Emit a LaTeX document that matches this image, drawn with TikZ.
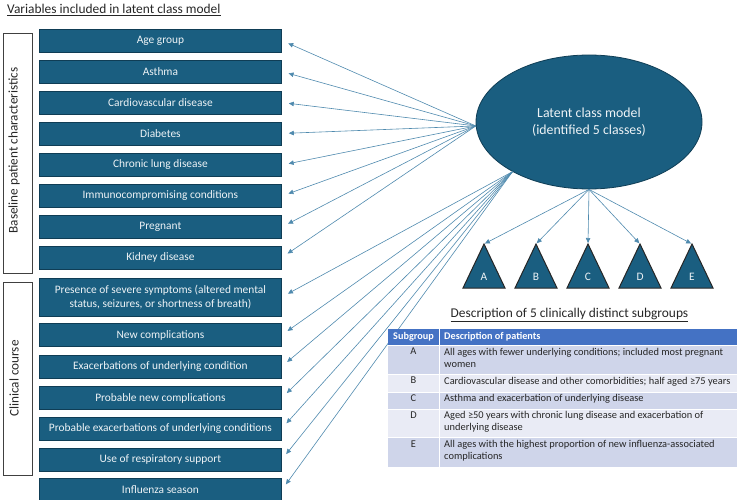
\documentclass[tikz,border=0pt]{standalone}
\usepackage{fontspec}
\setmainfont{Carlito}
\usetikzlibrary{shapes.geometric,arrows.meta}
\definecolor{tealA}{HTML}{1A5E80}
\definecolor{tealB}{HTML}{0F3D55}
\definecolor{arrc}{HTML}{4F8AAE}
\definecolor{hdrc}{HTML}{4472C4}
\definecolor{rowd}{HTML}{CFD5EA}
\definecolor{rowl}{HTML}{E9EBF5}
\definecolor{txtc}{HTML}{262626}
\definecolor{boxtxt}{HTML}{EEF3F6}
\begin{document}
\begin{tikzpicture}[x=1pt,y=-1pt,
  vbox/.style={draw=tealB, line width=0.8pt, fill=tealA, text=boxtxt, minimum width=242pt,
    minimum height=23pt, inner sep=0pt, font=\fontsize{11.4}{14}\selectfont, anchor=west, align=center},
  arr/.style={draw=arrc, line width=0.6pt, -{Triangle[length=5pt,width=4.5pt]}},
  brk/.style={draw=black!75, line width=0.8pt},
  tri/.style={draw=black!85, line width=1pt, fill=tealA},
  trilab/.style={text=boxtxt, font=\fontsize{11.4}{12}\selectfont},
  th/.style={text=white, font=\bfseries\fontsize{10.2}{11}\selectfont, inner sep=0pt},
  tdl/.style={text=txtc, font=\fontsize{10.4}{12}\selectfont, inner sep=0pt, anchor=north},
  tdd/.style={text=txtc, font=\fontsize{10.4}{12}\selectfont, inner sep=0pt, anchor=north west, align=left},
  sidelab/.style={rotate=90, text=txtc, font=\fontsize{13.2}{14}\selectfont}
]
\useasboundingbox (0,0) rectangle (738,500);

% titles
\node[anchor=west, text=txtc, font=\fontsize{13.4}{16}\selectfont, inner sep=0pt] (mt) at (7,10) {\underline{Variables included in latent class model}};
\node[text=txtc, font=\fontsize{13.4}{16}\selectfont, inner sep=0pt] (tt) at (569.5,315) {\underline{Description of 5 clinically distinct subgroups}};

% side brackets
\draw[brk] (3,33.5) rectangle (32.5,273);
\draw[brk] (3,282) rectangle (32.5,475);
\node[sidelab] (s1) at (14,150.5) {Baseline patient characteristics};
\node[sidelab] (s2) at (14,378.5) {Clinical course};

% variable boxes
\node[vbox] (b1) at (39,40.5) {Age group};
\node[vbox] (b2) at (39,71.5) {Asthma};
\node[vbox] (b3) at (39,102.5) {Cardiovascular disease};
\node[vbox] (b4) at (39,133.5) {Diabetes};
\node[vbox] (b5) at (39,165) {Chronic lung disease};
\node[vbox] (b6) at (39,196) {Immunocompromising conditions};
\node[vbox] (b7) at (39,227) {Pregnant};
\node[vbox] (b8) at (39,257.5) {Kidney disease};
\node[vbox, minimum height=38pt] (b9) at (39,297) {Presence of severe symptoms (altered mental\\status, seizures, or shortness of breath)};
\node[vbox] (b10) at (39,335) {New complications};
\node[vbox] (b11) at (39,366.5) {Exacerbations of underlying condition};
\node[vbox] (b12) at (39,398) {Probable new complications};
\node[vbox] (b13) at (39,428.5) {Probable exacerbations of underlying conditions};
\node[vbox] (b14) at (39,459.5) {Use of respiratory support};
\node[vbox] (b15) at (39,490) {Influenza season};

% latent class model
\node[ellipse, draw=tealB, line width=0.8pt, fill=tealA, minimum width=226pt, minimum height=134pt,
  inner sep=0pt, text=boxtxt, align=center, font=\fontsize{13.8}{17}\selectfont] (lcm) at (589,122)
  {Latent class model\\(identified 5 classes)};
\coordinate (o1) at (lcm.182);
\coordinate (o2) at (lcm.213);
\coordinate (o3) at (lcm.south);

\foreach \b in {b1,b2,b3,b4,b5,b6,b7,b8}
  \draw[arr, shorten >=7pt] (o1) -- (\b.east);
\foreach \b in {b9,b10,b11,b12,b13,b14,b15}
  \draw[arr, shorten >=7pt] (o2) -- (\b.east);

% triangles
\coordinate (tA) at (484,244);
\coordinate (tB) at (536,244);
\coordinate (tC) at (588,244);
\coordinate (tD) at (640,244);
\coordinate (tE) at (692,244);
\foreach \t in {tA,tB,tC,tD,tE}
  \draw[tri] (\t) -- ++(21,44) -- ++(-42,0) -- cycle;
\node[trilab] (lA) at (484,277) {A};
\node[trilab] (lB) at (536,277) {B};
\node[trilab] (lC) at (588,277) {C};
\node[trilab] (lD) at (640,277) {D};
\node[trilab] (lE) at (692,277) {E};
\foreach \t in {tA,tB,tC,tD,tE}
  \draw[arr, shorten >=1pt] (o3) -- (\t);

% table
\fill[hdrc] (388,329) rectangle (737,345);
\fill[rowd] (388,345) rectangle (737,374);
\fill[rowl] (388,374) rectangle (737,392);
\fill[rowd] (388,392) rectangle (737,409);
\fill[rowl] (388,409) rectangle (737,437);
\fill[rowd] (388,437) rectangle (737,467);
\draw[white, line width=1pt] (439,329) -- (439,467);
\foreach \yy in {345,374,392,409,437}
  \draw[white, line width=1pt] (388,\yy) -- (737,\yy);

\node[th] (h1) at (413.5,337) {Subgroup};
\node[th, anchor=west] (h2) at (444,337) {Description of patients};

\node[tdl] (rA) at (413.5,348) {A};
\node[tdd] (dA) at (444,348) {All ages with fewer underlying conditions; included most pregnant\\women};
\node[tdl] (rB) at (413.5,377) {B};
\node[tdd] (dB) at (444,377) {Cardiovascular disease and other comorbidities; half aged ≥75 years};
\node[tdl] (rC) at (413.5,394.5) {C};
\node[tdd] (dC) at (444,394.5) {Asthma and exacerbation of underlying disease};
\node[tdl] (rD) at (413.5,411.5) {D};
\node[tdd] (dD) at (444,411.5) {Aged ≥50 years with chronic lung disease and exacerbation of\\underlying disease};
\node[tdl] (rE) at (413.5,440.5) {E};
\node[tdd] (dE) at (444,440.5) {All ages with the highest proportion of new influenza-associated\\complications};
\end{tikzpicture}
\end{document}
